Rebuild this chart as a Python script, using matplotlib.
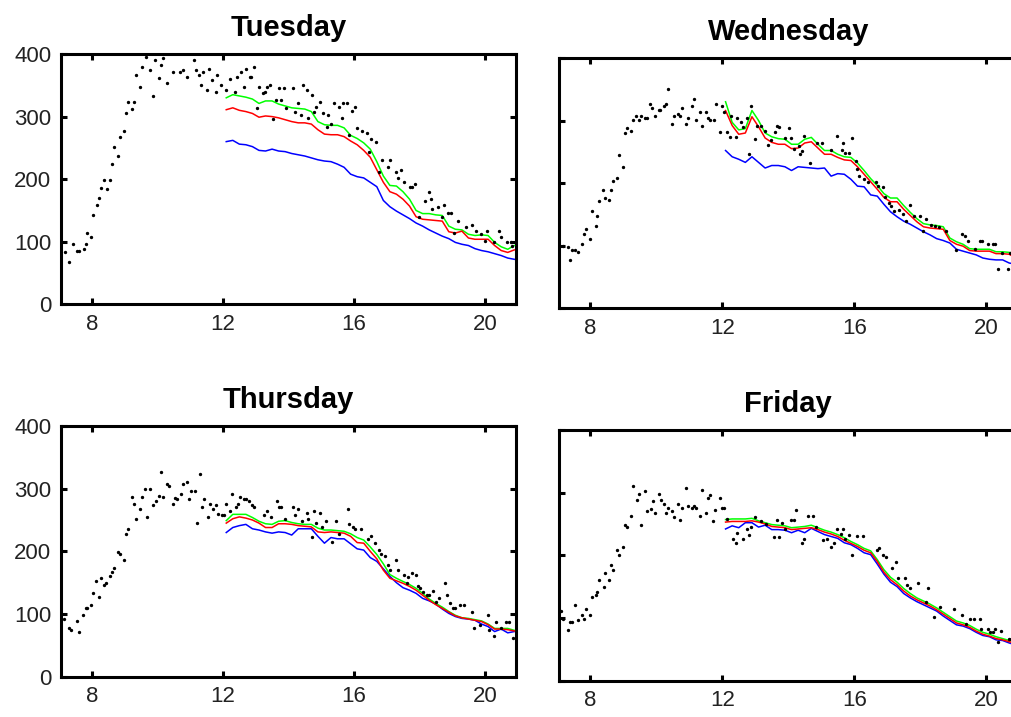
import numpy as np
import matplotlib
matplotlib.use("Agg")
import matplotlib.pyplot as plt

plt.rcParams['font.family'] = ['Liberation Sans', 'DejaVu Sans']

DAYS = ["Tuesday", "Wednesday", "Thursday", "Friday"]

# time grid of the smoothed curves (hours)
LINE_T = [12.1, 12.3, 12.5, 12.7, 12.9, 13.1, 13.3, 13.5, 13.7, 13.9,
          14.1, 14.3, 14.5, 14.7, 14.9, 15.1, 15.3, 15.5, 15.7, 15.9,
          16.1, 16.3, 16.5, 16.7, 16.9, 17.1, 17.3, 17.5, 17.7, 17.9,
          18.1, 18.3, 18.5, 18.7, 18.9, 19.1, 19.3, 19.5, 19.7, 19.9,
          20.1, 20.3, 20.5, 20.7, 20.9]

# ---- Tuesday ----
TUE_DOT_T = [7.18, 7.3, 7.43, 7.55, 7.6, 7.74, 7.81, 7.86, 7.97, 8.04, 8.15, 8.2, 8.26, 8.37,
             8.45, 8.56, 8.62, 8.68, 8.8, 8.86, 8.97, 9.03, 9.1, 9.22, 9.27, 9.33, 9.45, 9.52,
             9.64, 9.76, 9.87, 9.93, 10.04, 10.11, 10.16, 10.28, 10.46, 10.7, 10.77, 10.89,
             11.12, 11.17, 11.27, 11.34, 11.4, 11.52, 11.58, 11.65, 11.78, 11.83, 11.93, 12.08,
             12.21, 12.38, 12.44, 12.54, 12.64, 12.69, 12.82, 12.87, 12.94, 13.04, 13.11, 13.22,
             13.27, 13.34, 13.45, 13.52, 13.62, 13.7, 13.78, 13.86, 13.93, 14.15, 14.2, 14.3,
             14.38, 14.43, 14.57, 14.6, 14.73, 14.77, 14.85, 14.97, 15.05, 15.17, 15.2, 15.29,
             15.4, 15.55, 15.63, 15.68, 15.8, 15.86, 15.93, 16.03, 16.1, 16.26, 16.4, 16.46,
             16.52, 16.66, 16.76, 16.87, 17.04, 17.1, 17.3, 17.34, 17.44, 17.52, 17.7, 17.78,
             17.88, 17.98, 18.18, 18.3, 18.35, 18.4, 18.58, 18.69, 18.76, 18.86, 18.96, 19.06,
             19.19, 19.42, 19.6, 19.74, 19.87, 20.0, 20.07, 20.27, 20.42, 20.48, 20.68, 20.8, 20.83]
TUE_DOT_V = [83, 67, 96, 86, 86, 89, 96, 114, 108, 143, 159, 170, 186, 198,
             184, 198, 224, 252, 237, 267, 277, 305, 323, 312, 323, 367, 348, 380,
             395, 374, 333, 390, 362, 383, 393, 353, 371, 371, 374, 364,
             390, 374, 367, 351, 371, 343, 376, 359, 339, 367, 351, 343,
             360, 339, 364, 371, 348, 376, 364, 364, 380, 314, 348, 337,
             339, 348, 351, 296, 326, 345, 326, 345, 314, 345, 308, 322,
             302, 350, 343, 297, 334, 308, 315, 324, 306, 284, 302, 288,
             322, 315, 297, 322, 322, 271, 309, 316, 281, 277, 273, 243,
             264, 259, 212, 231, 219, 231, 211, 202, 215, 196, 187, 187,
             192, 140, 165, 180, 169, 153, 155, 140, 158, 146, 146, 114,
             133, 123, 127, 117, 112, 101, 117, 100, 117, 107, 100, 100, 93]
TUE_GREEN = [330, 335, 333, 331, 328, 321, 325, 325, 320, 317, 314, 313, 312, 308, 292,
             287, 286, 286, 282, 270, 265, 258, 248, 228, 205, 190, 189, 180, 168, 150,
             145, 145, 143, 142, 125, 120, 119, 112, 110, 111, 110, 99, 92, 88, 94]
TUE_RED = [311, 314, 310, 308, 305, 299, 301, 300, 298, 295, 292, 290, 290, 288, 279,
           272, 271, 271, 268, 261, 255, 246, 235, 215, 195, 180, 176, 168, 157, 140,
           136, 135, 134, 133, 116, 114, 117, 106, 104, 104, 104, 94, 86, 83, 87]
TUE_BLUE = [260, 262, 256, 255, 252, 246, 245, 248, 245, 244, 241, 239, 237, 234, 231,
            229, 228, 224, 219, 208, 204, 202, 195, 188, 166, 156, 149, 143, 137, 130,
            125, 119, 114, 109, 105, 99, 96, 94, 89, 86, 84, 81, 78, 74, 72]

# ---- Wednesday ----
WED_DOT_T = [7.17, 7.32, 7.37, 7.44, 7.54, 7.62, 7.75, 7.8, 7.86, 7.98, 8.04, 8.16, 8.2, 8.27,
             8.39, 8.46, 8.57, 8.63, 8.69, 8.82, 8.86, 9.0, 9.05, 9.11, 9.23, 9.29, 9.4, 9.47,
             9.53, 9.66, 9.71, 9.82, 9.88, 9.95, 10.07, 10.12, 10.24, 10.3, 10.37, 10.48, 10.54,
             10.67, 10.73, 10.78, 10.9, 10.96, 11.08, 11.14, 11.21, 11.32, 11.39, 11.5, 11.56,
             11.62, 11.75, 11.81, 11.93, 11.98, 12.04, 12.15, 12.22, 12.27, 12.41, 12.46, 12.58,
             12.63, 12.76, 12.81, 12.86, 13.0, 13.05, 13.17, 13.29, 13.4, 13.47, 13.6, 13.66,
             13.73, 13.91, 14.02, 14.07, 14.17, 14.32, 14.37, 14.42, 14.47, 14.66, 14.88, 15.01,
             15.29, 15.49, 15.62, 15.66, 15.72, 15.85, 15.92, 16.05, 16.1, 16.16, 16.29, 16.41,
             16.66, 16.73, 16.87, 16.92, 17.07, 17.12, 17.22, 17.37, 17.48, 17.58, 17.7, 17.81,
             17.98, 18.09, 18.19, 18.32, 18.44, 18.56, 18.77, 19.1, 19.26, 19.36, 19.46, 19.65,
             19.82, 19.87, 20.05, 20.2, 20.28, 20.36, 20.48, 20.66, 20.73]
WED_DOT_V = [99, 98, 77, 93, 93, 89, 102, 118, 126, 111, 155, 132, 148, 171,
             189, 176, 173, 189, 204, 208, 245, 226, 280, 288, 283, 301, 308, 301,
             308, 304, 304, 326, 320, 307, 317, 317, 324, 326, 351, 295, 307,
             311, 307, 320, 295, 304, 323, 335, 301, 313, 292, 313, 304,
             301, 301, 326, 282, 323, 313, 282, 273, 307, 273, 304, 297,
             290, 304, 246, 323, 270, 292, 292, 284, 261, 269, 282, 292,
             289, 272, 288, 272, 255, 260, 246, 252, 276, 232, 264, 264,
             253, 276, 253, 264, 248, 248, 272, 236, 223, 211, 207, 201,
             201, 195, 193, 178, 168, 164, 156, 157, 151, 140, 165, 147,
             148, 124, 143, 133, 132, 130, 124, 93, 118, 115, 108, 95,
             107, 107, 102, 102, 102, 63, 88, 63, 88]
WED_GREEN = [330, 297, 285, 287, 316, 300, 280, 274, 271, 270, 262, 262, 270, 273, 262,
             252, 252, 246, 242, 241, 232, 220, 207, 196, 183, 176, 176, 164, 153, 143,
             135, 133, 132, 130, 112, 106, 102, 95, 94, 94, 94, 90, 90, 89, 87]
WED_RED = [316, 292, 278, 280, 306, 290, 272, 265, 262, 262, 255, 256, 264, 266, 256,
           246, 246, 241, 237, 236, 226, 214, 202, 190, 177, 170, 170, 158, 148, 138,
           130, 128, 127, 126, 108, 102, 99, 92, 91, 91, 91, 87, 87, 86, 80]
WED_BLUE = [252, 242, 238, 233, 242, 233, 224, 228, 228, 226, 220, 226, 225, 224, 223,
            224, 211, 215, 214, 206, 195, 194, 181, 179, 166, 154, 146, 139, 134, 128,
            122, 117, 111, 108, 104, 94, 91, 88, 85, 80, 78, 77, 77, 72, 70]

# ---- Thursday ----
THU_DOT_T = [7.15, 7.29, 7.37, 7.54, 7.59, 7.73, 7.8, 7.85, 7.96, 8.03, 8.13, 8.2, 8.27, 8.37,
             8.43, 8.55, 8.61, 8.67, 8.78, 8.85, 8.97, 9.03, 9.09, 9.21, 9.27, 9.34, 9.46, 9.52,
             9.63, 9.69, 9.76, 9.87, 9.94, 10.06, 10.12, 10.18, 10.29, 10.35, 10.47, 10.53, 10.6,
             10.71, 10.77, 10.9, 10.96, 11.02, 11.14, 11.2, 11.31, 11.37, 11.43, 11.55, 11.61,
             11.68, 11.8, 11.85, 11.97, 12.03, 12.09, 12.2, 12.27, 12.39, 12.45, 12.51, 12.63,
             12.69, 12.81, 12.88, 12.94, 13.24, 13.34, 13.46, 13.65, 13.7, 13.78, 13.88, 14.13,
             14.2, 14.3, 14.42, 14.56, 14.61, 14.73, 14.79, 14.84, 14.96, 15.03, 15.14, 15.32,
             15.44, 15.55, 15.81, 15.85, 15.96, 16.03, 16.22, 16.44, 16.52, 16.64, 16.76, 16.84,
             16.95, 17.05, 17.1, 17.3, 17.35, 17.53, 17.61, 17.66, 17.78, 17.89, 17.97, 18.02,
             18.1, 18.22, 18.3, 18.42, 18.52, 18.6, 18.78, 18.83, 18.93, 19.03, 19.1, 19.24,
             19.37, 19.62, 19.66, 19.85, 20.1, 20.13, 20.28, 20.33, 20.5, 20.66, 20.74, 20.86]
THU_DOT_V = [92, 77, 74, 89, 71, 99, 109, 109, 114, 133, 153, 127, 158, 146,
             149, 161, 167, 173, 199, 195, 186, 227, 236, 287, 276, 251, 267, 287,
             299, 255, 299, 274, 280, 289, 327, 287, 308, 304, 276, 285, 283,
             292, 308, 311, 283, 296, 296, 246, 324, 271, 283, 255, 276,
             267, 274, 260, 258, 258, 276, 264, 292, 271, 276, 287, 283,
             283, 280, 274, 271, 258, 264, 255, 280, 271, 271, 251, 271,
             258, 267, 248, 261, 251, 223, 264, 246, 261, 239, 248, 215,
             248, 227, 267, 243, 239, 236, 236, 219, 225, 213, 202, 195,
             193, 178, 170, 186, 170, 163, 150, 159, 165, 162, 145, 142,
             135, 130, 130, 137, 119, 125, 149, 130, 118, 110, 110, 114,
             114, 103, 77, 82, 98, 74, 65, 87, 77, 87, 87, 61]
THU_GREEN = [249, 259, 259, 259, 254, 248, 244, 243, 248, 249, 246, 244, 243, 243, 237,
             234, 234, 233, 232, 228, 222, 218, 207, 195, 180, 163, 157, 152, 147, 141,
             133, 124, 117, 111, 104, 98, 94, 93, 91, 89, 84, 77, 77, 77, 74]
THU_RED = [245, 252, 255, 253, 250, 245, 238, 238, 244, 244, 243, 241, 240, 239, 231,
           230, 231, 230, 229, 224, 214, 213, 200, 188, 170, 157, 153, 149, 144, 138,
           130, 122, 115, 109, 103, 97, 94, 92, 90, 88, 83, 76, 76, 75, 73]
THU_BLUE = [230, 238, 241, 243, 236, 234, 231, 229, 231, 230, 226, 236, 236, 236, 224,
            213, 222, 220, 220, 212, 204, 202, 190, 184, 172, 160, 150, 142, 138, 133,
            125, 121, 116, 108, 101, 96, 93, 92, 90, 84, 80, 72, 76, 70, 72]

# ---- Friday ----
FRI_DOT_T = [7.11, 7.17, 7.32, 7.37, 7.44, 7.55, 7.62, 7.75, 7.8, 7.86, 7.98, 8.04, 8.16, 8.21,
             8.27, 8.4, 8.46, 8.57, 8.63, 8.69, 8.82, 8.88, 9.0, 9.05, 9.11, 9.23, 9.29, 9.41,
             9.48, 9.53, 9.65, 9.71, 9.83, 9.89, 9.95, 10.07, 10.13, 10.24, 10.3, 10.36, 10.48,
             10.54, 10.67, 10.73, 10.79, 10.9, 10.96, 11.08, 11.14, 11.2, 11.32, 11.38, 11.5,
             11.56, 11.62, 11.73, 11.79, 11.92, 11.98, 12.04, 12.15, 12.34, 12.41, 12.46, 12.63,
             12.74, 12.81, 12.86, 12.99, 13.17, 13.34, 13.58, 13.66, 13.71, 13.81, 13.91, 14.07,
             14.17, 14.24, 14.42, 14.47, 14.6, 14.75, 14.83, 15.04, 15.19, 15.31, 15.39, 15.49,
             15.59, 15.66, 15.72, 15.85, 15.92, 16.08, 16.26, 16.69, 16.76, 16.87, 16.95, 17.15,
             17.27, 17.34, 17.53, 17.6, 17.7, 17.94, 18.19, 18.24, 18.42, 18.6, 19.02, 19.26,
             19.39, 19.51, 19.63, 19.8, 19.85, 20.05, 20.12, 20.2, 20.27, 20.36, 20.46, 20.68, 20.76]
FRI_DOT_V = [111, 99, 80, 93, 93, 120, 96, 105, 98, 114, 105, 133, 137, 142,
             161, 149, 171, 161, 185, 177, 208, 201, 214, 248, 245, 263, 311, 288,
             298, 249, 302, 270, 274, 286, 267, 298, 288, 282, 267, 276, 270,
             261, 282, 257, 276, 308, 279, 276, 279, 276, 263, 304, 267,
             292, 296, 254, 272, 292, 276, 276, 258, 226, 220, 235, 226,
             242, 233, 245, 261, 254, 250, 229, 257, 229, 251, 242, 256,
             257, 272, 220, 226, 263, 263, 245, 224, 226, 213, 219, 242,
             234, 242, 226, 233, 201, 230, 230, 208, 211, 201, 198, 179,
             189, 164, 164, 152, 148, 155, 125, 148, 102, 117, 114, 105,
             91, 98, 98, 98, 83, 83, 77, 77, 83, 62, 79, 67, 67]
FRI_GREEN = [257, 258, 258, 258, 259, 255, 252, 249, 248, 247, 244, 245, 246, 248, 244,
             240, 237, 233, 228, 222, 217, 211, 207, 193, 177, 165, 157, 147, 139, 132,
             127, 122, 116, 109, 102, 95, 92, 88, 82, 77, 74, 70, 67, 64, 61]
FRI_RED = [253, 254, 254, 254, 255, 253, 250, 246, 245, 244, 241, 242, 243, 244, 241,
           237, 234, 230, 224, 219, 214, 208, 204, 190, 173, 161, 153, 143, 135, 129,
           124, 119, 113, 106, 99, 92, 89, 85, 79, 74, 71, 67, 65, 62, 59]
FRI_BLUE = [242, 247, 244, 252, 252, 245, 248, 241, 241, 240, 236, 240, 236, 243, 238,
            233, 230, 227, 220, 217, 211, 204, 201, 186, 170, 157, 150, 139, 132, 126,
            121, 116, 111, 103, 96, 89, 87, 83, 77, 72, 70, 65, 64, 60, 57]

DOT_T = [TUE_DOT_T, WED_DOT_T, THU_DOT_T, FRI_DOT_T]
DOT_V = [TUE_DOT_V, WED_DOT_V, THU_DOT_V, FRI_DOT_V]
GREEN = [TUE_GREEN, WED_GREEN, THU_GREEN, FRI_GREEN]
RED = [TUE_RED, WED_RED, THU_RED, FRI_RED]
BLUE = [TUE_BLUE, WED_BLUE, THU_BLUE, FRI_BLUE]

# axes boxes in figure fractions (right column runs off the edge, like the original)
POSITIONS = [
    [0.0603, 0.5755, 0.450, 0.3492],
    [0.5529, 0.5704, 0.4535, 0.3487],
    [0.0603, 0.0562, 0.450, 0.3497],
    [0.5529, 0.0508, 0.4535, 0.3495],
]


def plot_day(ax, i):
    ax.plot(LINE_T, BLUE[i], color='#0000ff', lw=1.1, zorder=2)
    ax.plot(LINE_T, GREEN[i], color='#00ff00', lw=1.1, zorder=3)
    ax.plot(LINE_T, RED[i], color='#ff0000', lw=1.1, zorder=4)
    ax.plot(DOT_T[i], DOT_V[i], 'k.', markersize=2.8, zorder=5)

    ax.set_xlim(7.05, 20.95)
    ax.set_ylim(0, 400)
    ax.set_xticks([8, 12, 16, 20])
    ax.set_yticks([0, 100, 200, 300, 400])
    ax.tick_params(direction='in', length=4, width=2.2, top=True, right=True,
                   labelsize=16, pad=7, colors='black')
    ax.tick_params(axis='x', labelcolor='#222222')
    ax.tick_params(axis='y', labelcolor='#222222')
    for s in ax.spines.values():
        s.set_linewidth(2.2)
    if i % 2 == 1:
        ax.tick_params(labelleft=False)
    ax.set_title(DAYS[i], fontsize=21, fontweight='bold', pad=13)


def main():
    fig = plt.figure(figsize=(10.11, 7.17), dpi=100)
    for i in range(4):
        ax = fig.add_axes(POSITIONS[i])
        plot_day(ax, i)
    fig.savefig("out.png", dpi=100)


if __name__ == "__main__":
    main()
